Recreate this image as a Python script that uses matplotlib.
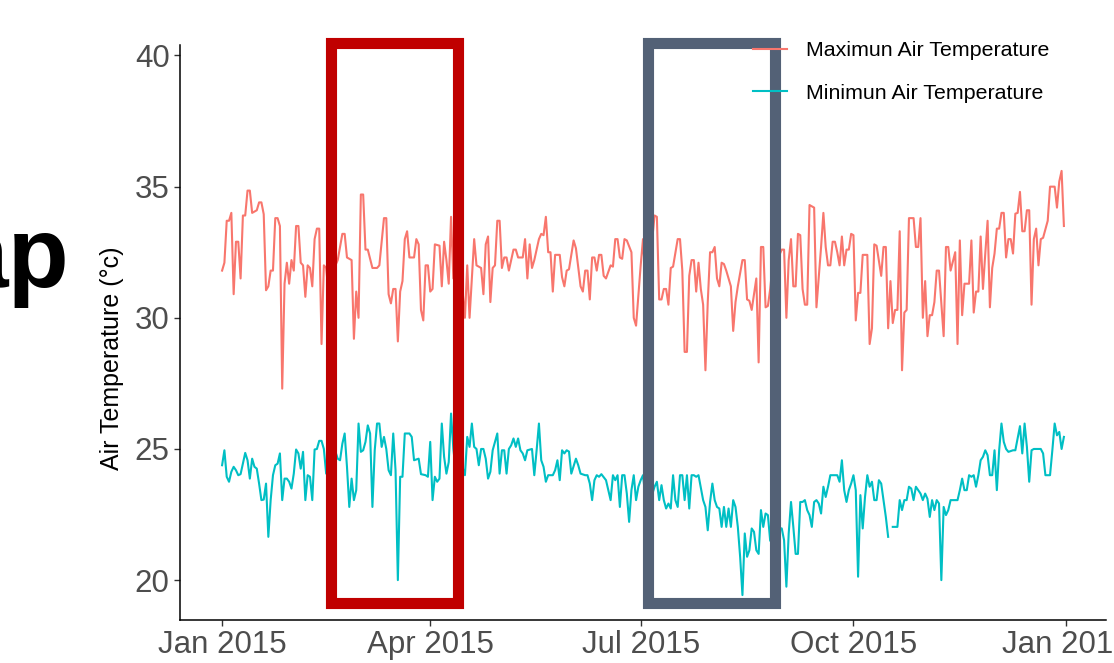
import numpy as np
import pandas as pd
import matplotlib
matplotlib.use("Agg")
import matplotlib.pyplot as plt
import matplotlib.dates as mdates
from matplotlib.patches import Rectangle

# ---------------- data (day offsets from 2015-01-01, values in degC) ----------------
start_date = "2015-01-01"

max_days = [0, 1, 2, 3, 4, 5, 6, 7, 8, 9, 10, 11, 12, 13, 15, 16, 17, 18, 19, 20,
            21, 22, 23, 24, 25, 26, 27, 28, 29, 30, 31, 32, 33, 34, 35, 36, 37, 38, 39, 40,
            41, 42, 43, 44, 45, 46, 47, 48, 49, 50, 52, 53, 54, 56, 57, 58, 59, 60, 61, 62,
            63, 65, 67, 68, 70, 71, 72, 73, 74, 75, 76, 77, 78, 79, 80, 81, 83, 84, 85, 86,
            87, 88, 89, 90, 91, 92, 94, 95, 96, 97, 98, 99, 100, 101, 102, 103, 105, 106, 107, 109,
            110, 112, 113, 114, 115, 116, 117, 118, 119, 120, 121, 122, 123, 124, 126, 127, 128, 130, 131, 132,
            133, 134, 135, 137, 138, 139, 140, 141, 142, 143, 144, 146, 147, 148, 149, 150, 152, 153, 155, 156,
            157, 158, 159, 160, 161, 162, 163, 164, 165, 166, 168, 169, 170, 171, 172, 173, 174, 175, 177, 178,
            179, 181, 182, 183, 184, 185, 186, 187, 188, 189, 190, 191, 192, 193, 194, 195, 197, 198, 199, 200,
            201, 202, 203, 204, 205, 206, 207, 208, 209, 210, 211, 212, 213, 214, 215, 216, 217, 218, 220, 221,
            222, 223, 225, 226, 227, 228, 229, 230, 231, 232, 233, 234, 235, 236, 237, 238, 239, 240, 241, 242,
            243, 244, 245, 246, 247, 248, 249, 250, 251, 252, 253, 254, 256, 257, 259, 260, 261, 262, 263, 264,
            265, 266, 267, 268, 269, 270, 271, 272, 273, 274, 275, 276, 277, 279, 280, 281, 282, 283, 285, 286,
            287, 288, 289, 290, 291, 292, 293, 294, 295, 296, 297, 299, 300, 301, 302, 303, 304, 305, 306, 307,
            308, 309, 310, 312, 313, 314, 315, 317, 318, 319, 320, 321, 323, 324, 325, 326, 327, 328, 329, 330,
            331, 332, 333, 334, 335, 336, 337, 338, 339, 340, 341, 342, 343, 344, 345, 346, 347, 348, 349, 350,
            351, 352, 353, 354, 355, 357, 358, 360, 361, 362, 363, 364]
max_temp = [31.8, 32.1, 33.7, 33.7, 34.0, 30.9, 32.9, 32.9, 31.5, 33.9, 33.9, 34.85, 34.85, 34.0, 34.1, 34.4, 34.4, 33.95, 31.05, 31.2,
            31.8, 31.8, 33.8, 33.8, 33.5, 27.3, 31.3, 32.1, 31.3, 32.2, 31.8, 33.5, 33.5, 32.1, 32.0, 30.8, 32.0, 31.9, 31.2, 33.0,
            33.4, 33.4, 29.0, 32.0, 31.9, 31.0, 33.0, 31.5, 32.0, 32.2, 33.2, 33.2, 32.3, 32.2, 29.2, 31.0, 30.0, 34.7, 34.7, 32.6,
            32.6, 31.9, 31.9, 32.0, 33.8, 33.8, 30.9, 30.55, 31.1, 31.1, 29.1, 31.0, 31.4, 33.0, 33.3, 32.3, 32.3, 33.0, 32.8, 30.3,
            29.9, 32.0, 32.0, 31.0, 31.1, 32.8, 32.75, 31.2, 32.9, 32.2, 31.3, 33.85, 31.5, 32.5, 31.0, 32.0, 30.0, 32.0, 30.0, 33.0,
            32.0, 31.9, 30.9, 32.8, 33.1, 30.6, 31.9, 32.0, 33.7, 33.7, 31.9, 32.3, 32.3, 31.8, 32.6, 32.6, 32.3, 32.3, 33.0, 31.5,
            32.8, 31.9, 32.2, 33.0, 33.2, 33.15, 33.85, 32.5, 32.5, 31.0, 32.4, 32.4, 31.55, 31.2, 31.8, 31.85, 32.95, 32.65, 31.2, 31.0,
            31.8, 31.8, 30.7, 32.3, 32.3, 31.8, 32.4, 32.4, 31.6, 31.5, 32.0, 31.95, 33.0, 33.0, 32.3, 32.25, 33.0, 32.95, 32.5, 30.0,
            29.7, 32.0, 33.0, 31.5, 32.8, 31.0, 33.0, 33.9, 33.85, 30.7, 30.7, 31.1, 31.1, 30.5, 31.9, 31.95, 33.0, 33.0, 31.8, 28.7,
            28.7, 31.6, 32.2, 32.2, 31.0, 32.1, 31.1, 30.5, 28.0, 30.6, 32.5, 32.5, 32.7, 31.5, 31.2, 32.1, 32.05, 31.8, 31.2, 29.5,
            30.6, 31.2, 32.2, 32.2, 30.7, 30.65, 30.3, 30.9, 31.5, 28.3, 32.7, 32.7, 30.4, 30.45, 31.1, 32.0, 30.8, 31.5, 32.4, 32.6,
            32.6, 30.0, 32.2, 33.0, 31.2, 31.2, 33.2, 33.15, 31.1, 30.5, 30.5, 34.3, 34.2, 30.4, 32.7, 34.0, 32.7, 32.0, 32.0, 32.9,
            32.9, 32.5, 32.0, 33.1, 32.0, 32.6, 32.6, 33.2, 33.15, 29.9, 30.95, 30.95, 32.4, 32.4, 29.0, 29.6, 32.8, 32.75, 31.6, 32.7,
            32.7, 29.6, 31.4, 29.8, 30.3, 30.3, 33.3, 28.0, 30.2, 30.3, 33.8, 33.8, 32.7, 32.7, 33.8, 30.0, 31.4, 29.3, 30.1, 30.1,
            30.6, 31.8, 31.8, 29.3, 32.7, 32.7, 31.8, 32.5, 29.0, 32.95, 30.1, 31.3, 31.3, 32.95, 30.2, 31.0, 31.0, 33.1, 31.1, 32.45,
            33.7, 30.4, 31.9, 32.45, 33.4, 33.4, 34.0, 34.0, 32.3, 33.0, 33.0, 32.45, 33.97, 34.0, 34.8, 33.3, 33.3, 34.1, 34.1, 30.5,
            33.0, 33.4, 32.0, 33.0, 33.05, 33.7, 35.0, 35.0, 34.2, 35.2, 35.6, 33.5]

min_days = [0, 1, 2, 3, 4, 5, 6, 7, 8, 10, 11, 12, 13, 14, 15, 16, 17, 18, 19, 20,
            21, 22, 23, 24, 25, 26, 27, 28, 29, 30, 31, 32, 33, 34, 35, 36, 37, 38, 39, 40,
            41, 42, 43, 44, 45, 46, 47, 48, 49, 50, 51, 52, 53, 54, 55, 56, 57, 58, 59, 60,
            61, 62, 63, 64, 65, 66, 67, 68, 69, 70, 71, 72, 73, 74, 75, 76, 77, 78, 79, 81,
            82, 83, 85, 86, 88, 89, 90, 91, 92, 93, 94, 95, 96, 97, 98, 99, 100, 101, 102, 103,
            105, 106, 107, 108, 109, 110, 111, 112, 113, 114, 115, 116, 117, 119, 120, 121, 122, 123, 124, 125,
            126, 127, 128, 129, 130, 131, 132, 134, 135, 136, 137, 138, 139, 140, 141, 143, 144, 145, 146, 147,
            148, 149, 150, 151, 153, 154, 155, 157, 158, 159, 160, 161, 162, 163, 164, 166, 168, 169, 170, 171,
            172, 173, 174, 175, 176, 177, 178, 179, 180, 181, 182, 183, 184, 185, 187, 188, 189, 190, 191, 192,
            193, 194, 195, 196, 197, 198, 199, 200, 201, 202, 203, 204, 205, 206, 208, 209, 210, 211, 212, 213,
            214, 215, 216, 217, 218, 219, 220, 221, 222, 223, 224, 225, 226, 227, 228, 229, 230, 231, 232, 233,
            234, 235, 236, 237, 238, 239, 240, 242, 243, 244, 245, 246, 247, 248, 249, 250, 251, 252, 253, 254,
            255, 256, 257, 258, 259, 260, 261, 262, 263, 265, 266, 267, 268, 269, 270, 271, 272, 273, 274, 275,
            276, 277, 278, 279, 280, 281, 282, 283, 284, 285, 286, 287, 288, 289, 290, 292, 293, 294, 295, 296,
            297, 298, 299, 300, 301, 302, 303, 304, 305, 306, 307, 308, 309, 310, 311, 312, 313, 314, 315, 316,
            318, 319, 320, 321, 322, 323, 324, 325, 326, 327, 328, 329, 330, 331, 332, 333, 334, 335, 336, 337,
            338, 339, 340, 342, 343, 345, 346, 347, 348, 349, 350, 351, 354, 355, 356, 358, 359, 360, 361, 362,
            363, 364]
min_temp = [24.38, 24.95, 23.94, 23.75, 24.13, 24.32, 24.19, 24.0, 24.04, 24.85, 24.57, 23.87, 24.63, 24.32, 24.25, 23.68, 23.05, 23.07, 23.68, 21.65,
            23.05, 24.0, 24.38, 24.44, 24.83, 23.05, 23.87, 23.87, 23.75, 23.49, 24.06, 24.98, 24.83, 24.25, 24.89, 23.05, 24.0, 23.94, 23.05, 24.98,
            25.0, 25.31, 25.31, 25.0, 24.06, 24.5, 25.2, 24.8, 24.9, 24.63, 24.57, 25.2, 25.59, 24.32, 22.79, 23.87, 23.05, 23.43, 25.97, 24.89,
            24.95, 25.27, 25.9, 25.59, 22.79, 24.95, 25.97, 25.97, 25.08, 25.46, 25.0, 24.19, 24.0, 25.59, 24.19, 20.0, 23.94, 23.94, 25.59, 25.59,
            25.46, 24.57, 24.63, 24.04, 24.0, 23.94, 25.27, 23.05, 23.94, 23.75, 23.87, 25.97, 24.7, 24.06, 24.5, 26.35, 25.0, 24.2, 25.5, 24.6,
            24.0, 25.46, 25.08, 25.97, 25.08, 25.0, 24.38, 25.0, 25.0, 24.63, 23.87, 24.13, 24.95, 25.59, 24.06, 24.95, 24.95, 24.06, 25.0, 25.14,
            25.4, 25.08, 25.4, 24.95, 24.83, 24.57, 24.95, 25.0, 24.0, 24.95, 25.97, 24.57, 24.32, 23.75, 24.0, 24.0, 24.19, 24.57, 23.81, 24.95,
            24.83, 24.95, 24.9, 24.06, 24.63, 24.38, 24.06, 24.0, 24.0, 23.68, 23.05, 23.81, 24.0, 23.94, 24.04, 23.81, 23.05, 24.0, 23.81, 24.0,
            22.79, 24.0, 24.0, 23.3, 22.22, 23.43, 24.0, 23.05, 23.56, 23.81, 24.0, 23.2, 24.3, 23.0, 23.56, 23.75, 23.05, 23.62, 23.05, 22.73,
            22.92, 22.73, 24.0, 23.05, 22.79, 24.0, 24.0, 23.05, 24.0, 22.73, 24.0, 24.0, 23.94, 24.0, 23.05, 22.79, 21.9, 22.98, 23.68, 23.05,
            22.79, 22.73, 22.03, 22.79, 22.03, 22.73, 22.03, 23.05, 22.79, 22.03, 20.89, 19.43, 21.78, 20.89, 21.14, 21.97, 21.84, 21.14, 21.0, 22.67,
            22.03, 22.54, 22.48, 21.5, 22.6, 21.2, 22.0, 21.97, 21.52, 19.75, 21.78, 22.98, 22.03, 21.0, 21.0, 22.98, 22.98, 23.05, 22.67, 22.48,
            22.03, 22.98, 23.05, 22.92, 22.54, 23.56, 23.17, 23.56, 24.0, 24.0, 24.0, 23.75, 24.57, 23.43, 22.98, 23.43, 23.68, 24.0, 23.43, 20.13,
            23.24, 21.97, 23.17, 24.0, 23.56, 23.75, 23.05, 23.05, 23.81, 23.68, 23.05, 22.41, 21.65, np.nan, 22.03, 22.03, 23.05, 22.67, 23.05, 23.05,
            23.56, 23.49, 23.05, 23.56, 23.43, 23.3, 23.05, 23.3, 23.1, 22.41, 23.05, 22.67, 23.05, 22.92, 20.0, 22.79, 22.48, 22.67, 23.05, 23.05,
            23.05, 23.43, 23.87, 23.43, 23.43, 24.0, 23.94, 24.0, 23.56, 24.0, 24.57, 24.7, 24.95, 24.76, 24.0, 24.0, 24.95, 23.43, 24.95, 25.97,
            25.27, 25.0, 24.89, 24.95, 24.95, 25.87, 24.83, 25.97, 25.08, 23.75, 24.95, 25.0, 25.0, 24.83, 24.0, 24.0, 24.95, 25.97, 25.52, 25.65,
            25.0, 25.46]

series_labels = ["Maximun Air Temperature", "Minimun Air Temperature"]
tick_dates = ["2015-01-01", "2015-04-01", "2015-07-01", "2015-10-01", "2016-01-01"]
tick_labels = ["Jan 2015", "Apr 2015", "Jul 2015", "Oct 2015", "Jan 2016"]
y_ticks = [20, 25, 30, 35, 40]
highlight_start = ["2015-02-17", "2015-07-04"]
highlight_end = ["2015-04-13", "2015-08-28"]
highlight_colors = ["#C00000", "#536176"]

# ---------------- figure ----------------
plt.rcParams['font.family'] = ['Liberation Sans', 'DejaVu Sans']
W, H, DPI = 1114, 663, 100
fig = plt.figure(figsize=(W / DPI, H / DPI), dpi=DPI)
fig.patch.set_facecolor("white")

ax = fig.add_axes([180 / W, 1 - 620 / H, 926 / W, 575 / H])

base = pd.Timestamp(start_date)
xmax = base + pd.to_timedelta(np.array(max_days), unit="D")
xmin = base + pd.to_timedelta(np.array(min_days), unit="D")

l1, = ax.plot(xmax, max_temp, color="#F8766D", lw=1.5, solid_joinstyle="round")
l2, = ax.plot(xmin, min_temp, color="#00BFC4", lw=1.5, solid_joinstyle="round")

ax.set_xlim(base - pd.Timedelta(days=18.2), base + pd.Timedelta(days=382.2))
ax.set_ylim(18.48, 40.4)

# highlight boxes
for s, e, c in zip(highlight_start, highlight_end, highlight_colors):
    x0 = mdates.date2num(pd.Timestamp(s))
    x1 = mdates.date2num(pd.Timestamp(e))
    r = Rectangle((x0, 19.14), x1 - x0, 40.46 - 19.14, fill=False, edgecolor=c,
                  linewidth=8.0, joinstyle="miter", clip_on=False, zorder=5)
    ax.add_patch(r)

ax.set_xticks([mdates.date2num(pd.Timestamp(d)) for d in tick_dates])
ax.set_xticklabels(tick_labels)
ax.set_yticks(y_ticks)
ax.tick_params(axis="both", labelsize=22.5, labelcolor="#4D4D4D", color="#333333",
               length=4.5, width=1.0, direction="out", pad=3)
for side in ["top", "right"]:
    ax.spines[side].set_visible(False)
for side in ["left", "bottom"]:
    ax.spines[side].set_color("black")
    ax.spines[side].set_linewidth(1.1)

ax.set_ylabel("Air Temperature (°c)", fontsize=18, color="black")
ax.yaxis.set_label_coords(-0.0605, 0.456)

leg = ax.legend([l1, l2], series_labels, loc="upper left",
                bbox_to_anchor=(753 / W, 1 - 41 / H), bbox_transform=fig.transFigure,
                frameon=False, fontsize=15.4, handlelength=1.59, handletextpad=0.9,
                labelspacing=1.1, borderpad=0, borderaxespad=0)

fig.text(69 / W, 1 - 287 / H, "ap", fontsize=72, fontweight="bold", color="black",
         ha="right", va="baseline")

fig.savefig("out.png", dpi=DPI)
